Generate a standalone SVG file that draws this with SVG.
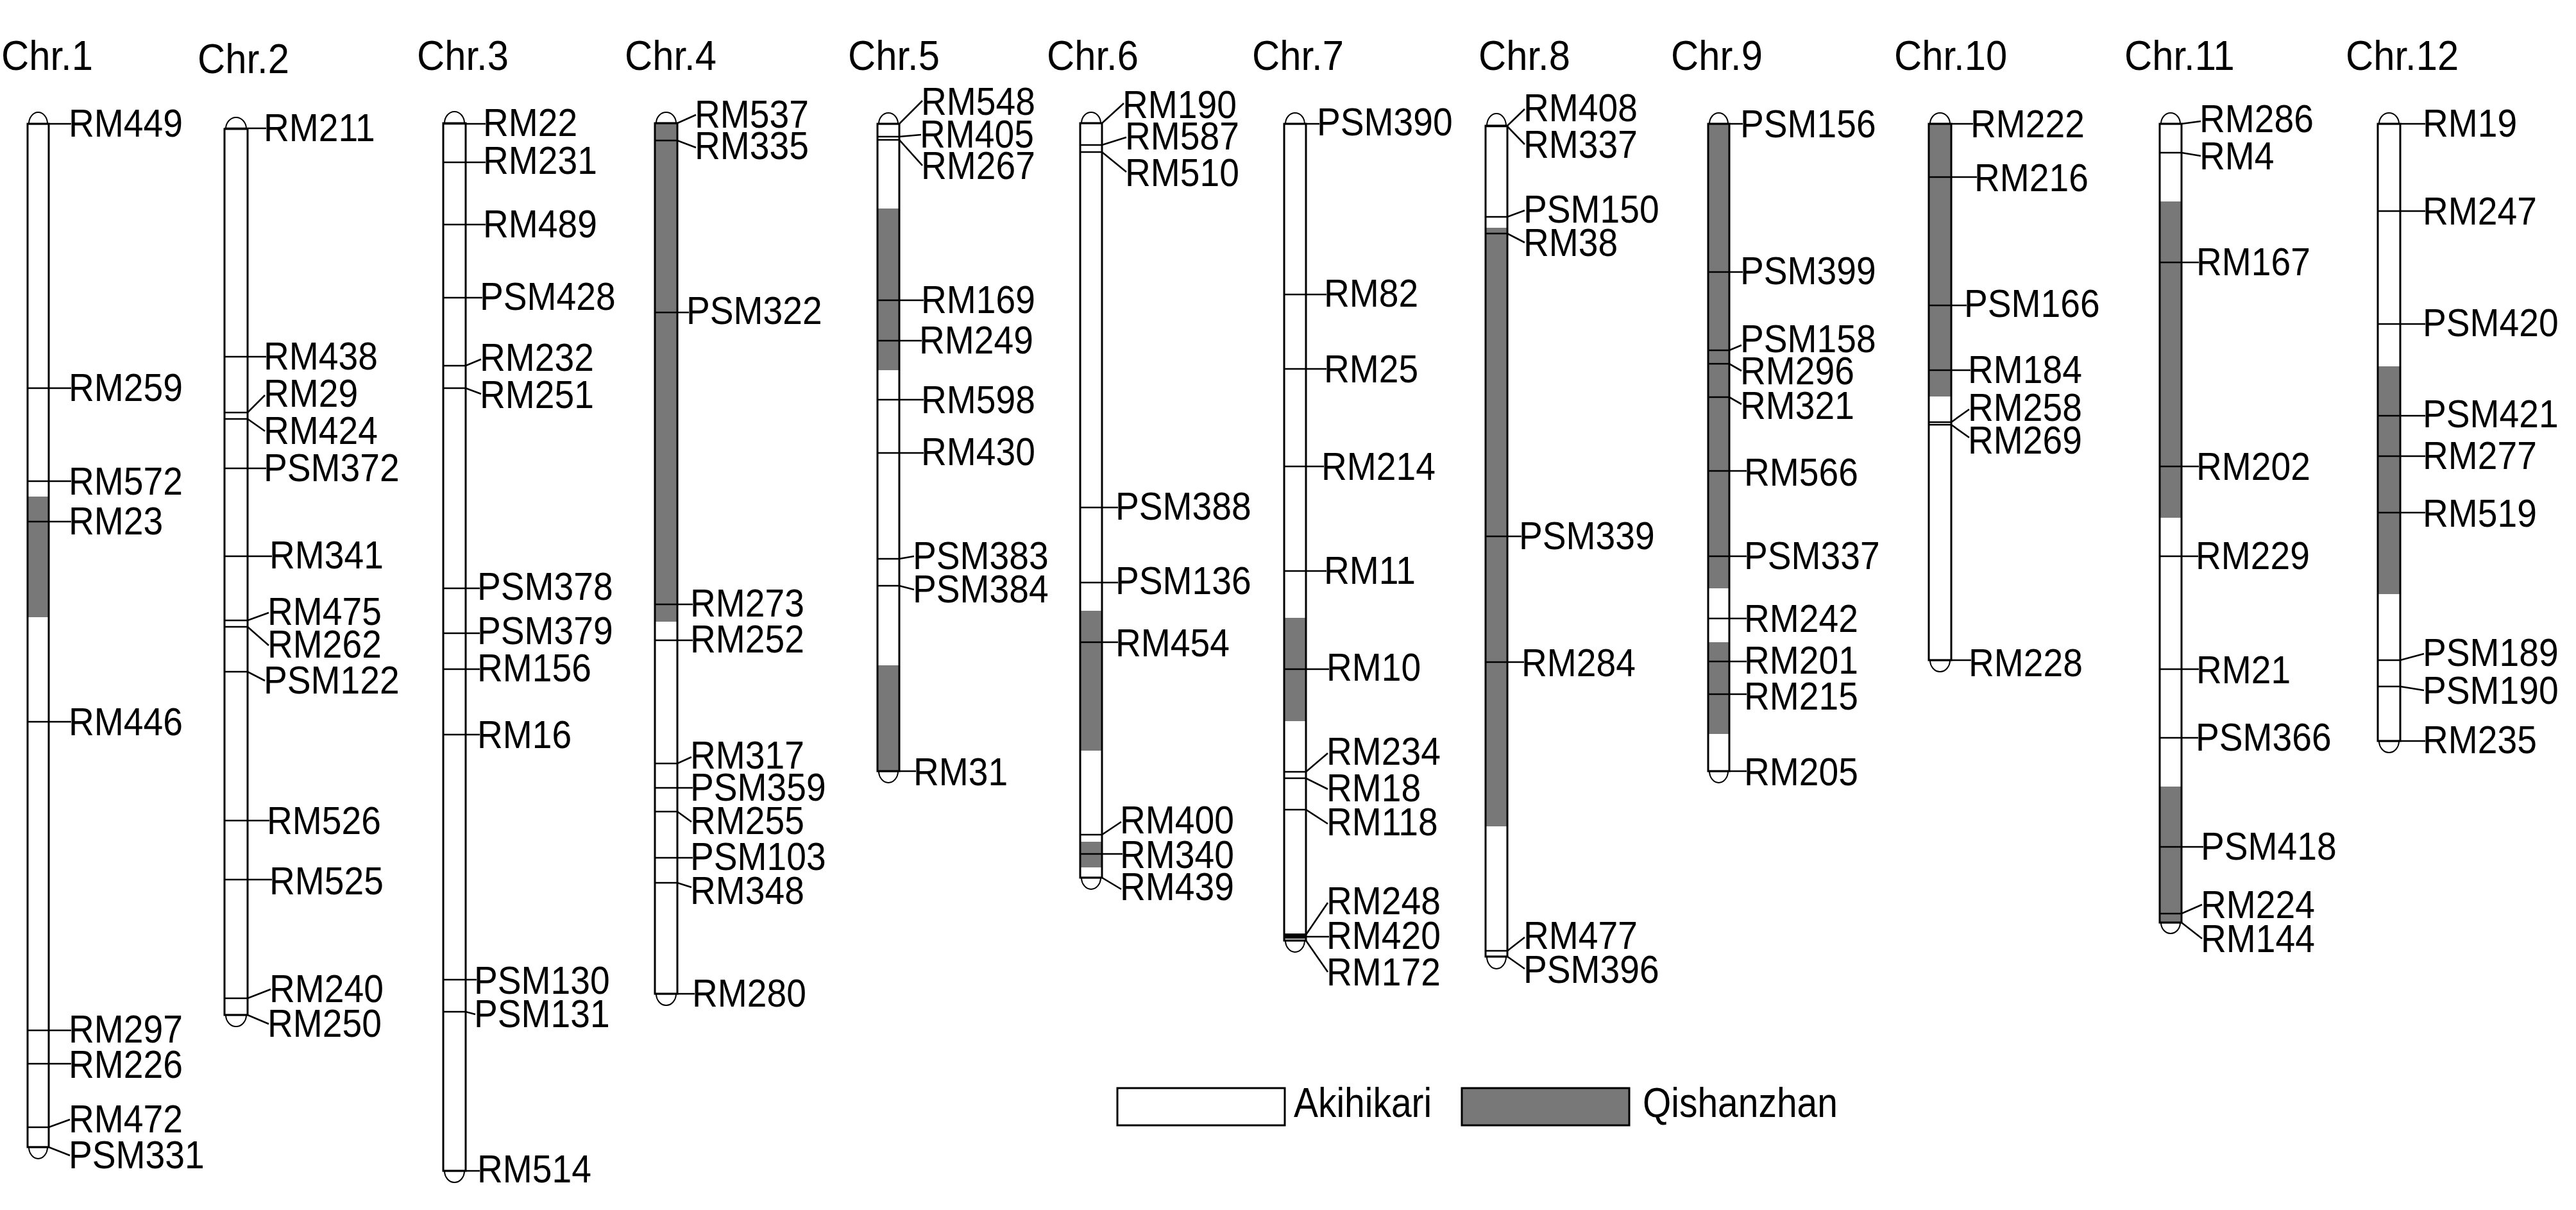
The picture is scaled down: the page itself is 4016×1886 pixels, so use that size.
<svg xmlns="http://www.w3.org/2000/svg" width="4016" height="1886" viewBox="0 0 4016 1886">
<style>
text{font-family:"Liberation Sans",Arial,sans-serif;fill:#000}
.t{font-size:65px}
.m{font-size:62px}
.lg{font-size:64px}
.bar{fill:none;stroke:#000;stroke-width:3}
.bg{fill:#fff}
.q{fill:#787878}
.cap{fill:none;stroke:#000;stroke-width:2}
.tk{fill:none;stroke:#000;stroke-width:2.6;stroke-linejoin:miter}
</style>
<rect width="4016" height="1886" fill="#fff"/>

<g id="chr1">
<text class="t" transform="translate(2 109) scale(.92 1)">Chr.1</text>
<rect class="bg" x="43" y="193" width="33" height="1595"/>
<rect class="q" x="43" y="774" width="33" height="188"/>
<path class="cap" d="M45,193A14.5 18 0 0 1 74,193M45,1788A14.5 18 0 0 0 74,1788"/>
<rect class="bar" x="43" y="193" width="33" height="1595"/>
<text class="m" transform="translate(107 213) scale(.89 1)">RM449</text>
<text class="m" transform="translate(107 625) scale(.89 1)">RM259</text>
<text class="m" transform="translate(107 771) scale(.89 1)">RM572</text>
<text class="m" transform="translate(107 833) scale(.89 1)">RM23</text>
<text class="m" transform="translate(107 1146) scale(.89 1)">RM446</text>
<text class="m" transform="translate(107 1625) scale(.89 1)">RM297</text>
<text class="m" transform="translate(107 1680) scale(.89 1)">RM226</text>
<text class="m" transform="translate(107 1765) scale(.89 1)">RM472</text>
<text class="m" transform="translate(107 1821) scale(.89 1)">PSM331</text>
</g>

<g id="chr2">
<text class="t" transform="translate(308 114) scale(.92 1)">Chr.2</text>
<rect class="bg" x="350" y="201" width="36" height="1381"/>
<path class="cap" d="M352,201A16 18 0 0 1 384,201M352,1582A16 18 0 0 0 384,1582"/>
<rect class="bar" x="350" y="201" width="36" height="1381"/>
<text class="m" transform="translate(411 220) scale(.89 1)">RM211</text>
<text class="m" transform="translate(411 576) scale(.89 1)">RM438</text>
<text class="m" transform="translate(411 634) scale(.89 1)">RM29</text>
<text class="m" transform="translate(411 692) scale(.89 1)">RM424</text>
<text class="m" transform="translate(411 750) scale(.89 1)">PSM372</text>
<text class="m" transform="translate(420 886) scale(.89 1)">RM341</text>
<text class="m" transform="translate(417 974) scale(.89 1)">RM475</text>
<text class="m" transform="translate(417 1025) scale(.89 1)">RM262</text>
<text class="m" transform="translate(411 1081) scale(.89 1)">PSM122</text>
<text class="m" transform="translate(416 1300) scale(.89 1)">RM526</text>
<text class="m" transform="translate(420 1394) scale(.89 1)">RM525</text>
<text class="m" transform="translate(420 1562) scale(.89 1)">RM240</text>
<text class="m" transform="translate(417 1616) scale(.89 1)">RM250</text>
</g>

<g id="chr3">
<text class="t" transform="translate(650 109) scale(.92 1)">Chr.3</text>
<rect class="bg" x="691" y="192" width="35" height="1633"/>
<path class="cap" d="M693,192A15.5 18 0 0 1 724,192M693,1825A15.5 18 0 0 0 724,1825"/>
<rect class="bar" x="691" y="192" width="35" height="1633"/>
<text class="m" transform="translate(753 212) scale(.89 1)">RM22</text>
<text class="m" transform="translate(753 271) scale(.89 1)">RM231</text>
<text class="m" transform="translate(753 370) scale(.89 1)">RM489</text>
<text class="m" transform="translate(748 483) scale(.89 1)">PSM428</text>
<text class="m" transform="translate(748 578) scale(.89 1)">RM232</text>
<text class="m" transform="translate(748 636) scale(.89 1)">RM251</text>
<text class="m" transform="translate(744 935) scale(.89 1)">PSM378</text>
<text class="m" transform="translate(744 1004) scale(.89 1)">PSM379</text>
<text class="m" transform="translate(744 1062) scale(.89 1)">RM156</text>
<text class="m" transform="translate(744 1166) scale(.89 1)">RM16</text>
<text class="m" transform="translate(739 1549) scale(.89 1)">PSM130</text>
<text class="m" transform="translate(739 1601) scale(.89 1)">PSM131</text>
<text class="m" transform="translate(744 1843) scale(.89 1)">RM514</text>
</g>

<g id="chr4">
<text class="t" transform="translate(974 109) scale(.92 1)">Chr.4</text>
<rect class="bg" x="1021" y="192" width="35" height="1357"/>
<rect class="q" x="1021" y="192" width="35" height="777"/>
<path class="cap" d="M1023,192A15.5 17 0 0 1 1054,192M1023,1549A15.5 18 0 0 0 1054,1549"/>
<rect class="bar" x="1021" y="192" width="35" height="1357"/>
<text class="m" transform="translate(1083 199) scale(.89 1)">RM537</text>
<text class="m" transform="translate(1083 248) scale(.89 1)">RM335</text>
<text class="m" transform="translate(1070 505) scale(.89 1)">PSM322</text>
<text class="m" transform="translate(1076 961) scale(.89 1)">RM273</text>
<text class="m" transform="translate(1076 1017) scale(.89 1)">RM252</text>
<text class="m" transform="translate(1076 1198) scale(.89 1)">RM317</text>
<text class="m" transform="translate(1076 1248) scale(.89 1)">PSM359</text>
<text class="m" transform="translate(1076 1300) scale(.89 1)">RM255</text>
<text class="m" transform="translate(1076 1356) scale(.89 1)">PSM103</text>
<text class="m" transform="translate(1076 1409) scale(.89 1)">RM348</text>
<text class="m" transform="translate(1079 1569) scale(.89 1)">RM280</text>
</g>

<g id="chr5">
<text class="t" transform="translate(1322 109) scale(.92 1)">Chr.5</text>
<rect class="bg" x="1368" y="193" width="34" height="1009"/>
<rect class="q" x="1368" y="325" width="34" height="252"/>
<rect class="q" x="1368" y="1037" width="34" height="165"/>
<path class="cap" d="M1370,193A15 17 0 0 1 1400,193M1370,1202A15 18 0 0 0 1400,1202"/>
<rect class="bar" x="1368" y="193" width="34" height="1009"/>
<text class="m" transform="translate(1436 179) scale(.89 1)">RM548</text>
<text class="m" transform="translate(1434 230) scale(.89 1)">RM405</text>
<text class="m" transform="translate(1436 279) scale(.89 1)">RM267</text>
<text class="m" transform="translate(1436 488) scale(.89 1)">RM169</text>
<text class="m" transform="translate(1433 551) scale(.89 1)">RM249</text>
<text class="m" transform="translate(1436 644) scale(.89 1)">RM598</text>
<text class="m" transform="translate(1436 725) scale(.89 1)">RM430</text>
<text class="m" transform="translate(1423 887) scale(.89 1)">PSM383</text>
<text class="m" transform="translate(1423 939) scale(.89 1)">PSM384</text>
<text class="m" transform="translate(1424 1224) scale(.89 1)">RM31</text>
</g>

<g id="chr6">
<text class="t" transform="translate(1632 109) scale(.92 1)">Chr.6</text>
<rect class="bg" x="1684" y="192" width="34" height="1176"/>
<rect class="q" x="1684" y="952" width="34" height="218"/>
<rect class="q" x="1684" y="1312" width="34" height="40"/>
<path class="cap" d="M1686,192A15 17 0 0 1 1716,192M1686,1368A15 18 0 0 0 1716,1368"/>
<rect class="bar" x="1684" y="192" width="34" height="1176"/>
<text class="m" transform="translate(1750 184) scale(.89 1)">RM190</text>
<text class="m" transform="translate(1754 233) scale(.89 1)">RM587</text>
<text class="m" transform="translate(1754 290) scale(.89 1)">RM510</text>
<text class="m" transform="translate(1739 810) scale(.89 1)">PSM388</text>
<text class="m" transform="translate(1739 926) scale(.89 1)">PSM136</text>
<text class="m" transform="translate(1739 1023) scale(.89 1)">RM454</text>
<text class="m" transform="translate(1746 1299) scale(.89 1)">RM400</text>
<text class="m" transform="translate(1746 1353) scale(.89 1)">RM340</text>
<text class="m" transform="translate(1746 1403) scale(.89 1)">RM439</text>
</g>

<g id="chr7">
<text class="t" transform="translate(1952 109) scale(.92 1)">Chr.7</text>
<rect class="bg" x="2002" y="193" width="34" height="1273"/>
<rect class="q" x="2002" y="963" width="34" height="161"/>
<rect x="2002" y="1455" width="34" height="8" fill="#000"/>
<path class="cap" d="M2004,193A15 17 0 0 1 2034,193M2004,1466A15 18 0 0 0 2034,1466"/>
<rect class="bar" x="2002" y="193" width="34" height="1273"/>
<text class="m" transform="translate(2053 211) scale(.89 1)">PSM390</text>
<text class="m" transform="translate(2064 478) scale(.89 1)">RM82</text>
<text class="m" transform="translate(2064 596) scale(.89 1)">RM25</text>
<text class="m" transform="translate(2060 748) scale(.89 1)">RM214</text>
<text class="m" transform="translate(2064 910) scale(.89 1)">RM11</text>
<text class="m" transform="translate(2068 1061) scale(.89 1)">RM10</text>
<text class="m" transform="translate(2068 1192) scale(.89 1)">RM234</text>
<text class="m" transform="translate(2068 1249) scale(.89 1)">RM18</text>
<text class="m" transform="translate(2068 1302) scale(.89 1)">RM118</text>
<text class="m" transform="translate(2068 1425) scale(.89 1)">RM248</text>
<text class="m" transform="translate(2068 1479) scale(.89 1)">RM420</text>
<text class="m" transform="translate(2068 1536) scale(.89 1)">RM172</text>
</g>

<g id="chr8">
<text class="t" transform="translate(2305 109) scale(.92 1)">Chr.8</text>
<rect class="bg" x="2316" y="196" width="34" height="1295"/>
<rect class="q" x="2316" y="355" width="34" height="933"/>
<path class="cap" d="M2318,196A15 19 0 0 1 2348,196M2318,1491A15 19 0 0 0 2348,1491"/>
<rect class="bar" x="2316" y="196" width="34" height="1295"/>
<text class="m" transform="translate(2375 189) scale(.89 1)">RM408</text>
<text class="m" transform="translate(2375 246) scale(.89 1)">RM337</text>
<text class="m" transform="translate(2375 347) scale(.89 1)">PSM150</text>
<text class="m" transform="translate(2375 399) scale(.89 1)">RM38</text>
<text class="m" transform="translate(2368 856) scale(.89 1)">PSM339</text>
<text class="m" transform="translate(2372 1054) scale(.89 1)">RM284</text>
<text class="m" transform="translate(2375 1479) scale(.89 1)">RM477</text>
<text class="m" transform="translate(2375 1532) scale(.89 1)">PSM396</text>
</g>

<g id="chr9">
<text class="t" transform="translate(2605 109) scale(.92 1)">Chr.9</text>
<rect class="bg" x="2663" y="193" width="33" height="1009"/>
<rect class="q" x="2663" y="193" width="33" height="724"/>
<rect class="q" x="2663" y="1001" width="33" height="143"/>
<path class="cap" d="M2665,193A14.5 17 0 0 1 2694,193M2665,1202A14.5 18 0 0 0 2694,1202"/>
<rect class="bar" x="2663" y="193" width="33" height="1009"/>
<text class="m" transform="translate(2713 214) scale(.89 1)">PSM156</text>
<text class="m" transform="translate(2713 443) scale(.89 1)">PSM399</text>
<text class="m" transform="translate(2713 549) scale(.89 1)">PSM158</text>
<text class="m" transform="translate(2713 599) scale(.89 1)">RM296</text>
<text class="m" transform="translate(2713 653) scale(.89 1)">RM321</text>
<text class="m" transform="translate(2719 757) scale(.89 1)">RM566</text>
<text class="m" transform="translate(2719 887) scale(.89 1)">PSM337</text>
<text class="m" transform="translate(2719 985) scale(.89 1)">RM242</text>
<text class="m" transform="translate(2719 1050) scale(.89 1)">RM201</text>
<text class="m" transform="translate(2719 1106) scale(.89 1)">RM215</text>
<text class="m" transform="translate(2719 1224) scale(.89 1)">RM205</text>
</g>

<g id="chr10">
<text class="t" transform="translate(2953 109) scale(.92 1)">Chr.10</text>
<rect class="bg" x="3007" y="193" width="35" height="836"/>
<rect class="q" x="3007" y="193" width="35" height="425"/>
<path class="cap" d="M3009,193A15.5 17 0 0 1 3040,193M3009,1029A15.5 18 0 0 0 3040,1029"/>
<rect class="bar" x="3007" y="193" width="35" height="836"/>
<text class="m" transform="translate(3072 214) scale(.89 1)">RM222</text>
<text class="m" transform="translate(3078 298) scale(.89 1)">RM216</text>
<text class="m" transform="translate(3062 494) scale(.89 1)">PSM166</text>
<text class="m" transform="translate(3068 597) scale(.89 1)">RM184</text>
<text class="m" transform="translate(3068 656) scale(.89 1)">RM258</text>
<text class="m" transform="translate(3068 707) scale(.89 1)">RM269</text>
<text class="m" transform="translate(3069 1054) scale(.89 1)">RM228</text>
</g>

<g id="chr11">
<text class="t" transform="translate(3312 109) scale(.92 1)">Chr.11</text>
<rect class="bg" x="3367" y="193" width="34" height="1245"/>
<rect class="q" x="3367" y="314" width="34" height="493"/>
<rect class="q" x="3367" y="1226" width="34" height="212"/>
<path class="cap" d="M3369,193A15 17 0 0 1 3399,193M3369,1438A15 17 0 0 0 3399,1438"/>
<rect class="bar" x="3367" y="193" width="34" height="1245"/>
<text class="m" transform="translate(3429 206) scale(.89 1)">RM286</text>
<text class="m" transform="translate(3429 264) scale(.89 1)">RM4</text>
<text class="m" transform="translate(3424 429) scale(.89 1)">RM167</text>
<text class="m" transform="translate(3424 748) scale(.89 1)">RM202</text>
<text class="m" transform="translate(3423 887) scale(.89 1)">RM229</text>
<text class="m" transform="translate(3424 1065) scale(.89 1)">RM21</text>
<text class="m" transform="translate(3423 1170) scale(.89 1)">PSM366</text>
<text class="m" transform="translate(3431 1340) scale(.89 1)">PSM418</text>
<text class="m" transform="translate(3431 1431) scale(.89 1)">RM224</text>
<text class="m" transform="translate(3431 1484) scale(.89 1)">RM144</text>
</g>

<g id="chr12">
<text class="t" transform="translate(3657 109) scale(.92 1)">Chr.12</text>
<rect class="bg" x="3707" y="193" width="35" height="962"/>
<rect class="q" x="3707" y="571" width="35" height="355"/>
<path class="cap" d="M3709,193A15.5 17 0 0 1 3740,193M3709,1155A15.5 18 0 0 0 3740,1155"/>
<rect class="bar" x="3707" y="193" width="35" height="962"/>
<text class="m" transform="translate(3777 213) scale(.89 1)">RM19</text>
<text class="m" transform="translate(3777 350) scale(.89 1)">RM247</text>
<text class="m" transform="translate(3777 524) scale(.89 1)">PSM420</text>
<text class="m" transform="translate(3777 666) scale(.89 1)">PSM421</text>
<text class="m" transform="translate(3777 731) scale(.89 1)">RM277</text>
<text class="m" transform="translate(3777 821) scale(.89 1)">RM519</text>
<text class="m" transform="translate(3777 1038) scale(.89 1)">PSM189</text>
<text class="m" transform="translate(3777 1097) scale(.89 1)">PSM190</text>
<text class="m" transform="translate(3777 1174) scale(.89 1)">RM235</text>
</g>

<g id="connectors" class="tk">
<path d="M43,193H111M43,605H111M43,750H111M43,813H111M43,1125H111M43,1606H111M43,1658H111M43,1757H76L109,1745M43,1788H76L109,1801"/>
<path d="M350,200H415M350,556H415M350,643H386L413,616M350,653H386L413,672M350,730H415M350,867H424M350,967H386L419,955M350,977H386L419,1006M350,1047H386L413,1061M350,1279H420M350,1371H424M350,1556H386L422,1542M350,1582H386L419,1596"/>
<path d="M691,193H757M691,253H757M691,350H757M691,464H752M691,570H726L750,560M691,605H726L750,614M691,917H748M691,987H748M691,1043H748M691,1145H748M691,1527H743M691,1577H726L741,1581M691,1825H748"/>
<path d="M1021,192H1056L1085,179M1021,219H1056L1085,230M1021,487H1074M1021,942H1080M1021,998H1080M1021,1190H1056L1078,1180M1021,1228H1080M1021,1265H1056L1078,1281M1021,1337H1080M1021,1376H1056L1078,1383M1021,1549H1083"/>
<path d="M1368,193H1402L1438,157M1368,213H1402L1436,210M1368,218H1402L1438,258M1368,468H1440M1368,531H1437M1368,623H1440M1368,706H1440M1368,871H1402L1425,867M1368,913H1402L1425,919M1368,1202H1428"/>
<path d="M1684,192H1718L1752,161M1684,226H1718L1756,214M1684,237H1718L1756,268M1684,791H1743M1684,908H1743M1684,1001H1743M1684,1301H1718L1748,1281M1684,1331H1750M1684,1368H1718L1748,1386"/>
<path d="M2002,193H2057M2002,459H2068M2002,575H2068M2002,727H2064M2002,890H2068M2002,1043H2072M2002,1203H2036L2070,1174M2002,1213H2036L2070,1230M2002,1262H2036L2070,1284M2002,1457H2036L2070,1407M2002,1460H2072M2002,1466H2036L2070,1515"/>
<path d="M2316,196H2350L2377,170M2316,197H2350L2377,225M2316,338H2350L2377,328M2316,364H2350L2377,378M2316,836H2372M2316,1032H2376M2316,1482H2350L2377,1461M2316,1491H2350L2377,1510"/>
<path d="M2663,193H2717M2663,424H2717M2663,546H2696L2715,538M2663,567H2696L2715,578M2663,619H2696L2715,630M2663,734H2723M2663,867H2723M2663,964H2723M2663,1031H2723M2663,1082H2723M2663,1202H2723"/>
<path d="M3007,193H3076M3007,276H3082M3007,476H3066M3007,577H3072M3007,658H3042L3070,638M3007,662H3042L3070,682M3007,1029H3073"/>
<path d="M3367,193H3401L3431,189M3367,238H3401L3431,243M3367,409H3428M3367,727H3428M3367,867H3427M3367,1043H3428M3367,1150H3427M3367,1320H3435M3367,1424H3401L3433,1410M3367,1438H3401L3433,1463"/>
<path d="M3707,193H3781M3707,329H3781M3707,505H3781M3707,648H3781M3707,711H3781M3707,799H3781M3707,1029H3742L3779,1019M3707,1070H3742L3779,1076M3707,1155H3781"/>
</g>

<g id="legend">
<rect x="1742" y="1696" width="261" height="58" fill="#fff" stroke="#000" stroke-width="3"/>
<text class="lg" transform="translate(2017 1741) scale(.89 1)">Akihikari</text>
<rect x="2279" y="1696" width="261" height="58" fill="#787878" stroke="#000" stroke-width="3"/>
<text class="lg" transform="translate(2561 1741) scale(.89 1)">Qishanzhan</text>
</g>
</svg>
